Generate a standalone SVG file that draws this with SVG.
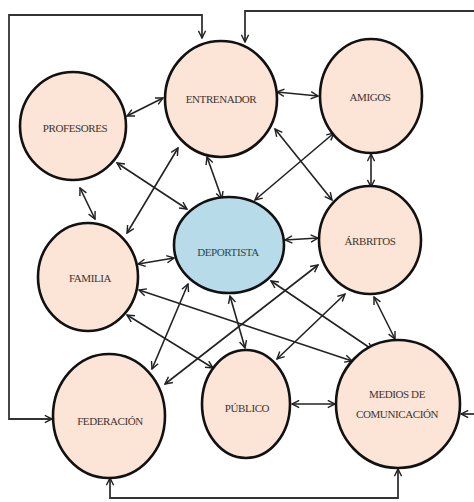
<svg xmlns="http://www.w3.org/2000/svg" width="474" height="502" viewBox="0 0 474 502">
<defs>
<marker id="ah" viewBox="0 0 10 10" refX="9" refY="5" markerWidth="9" markerHeight="9" markerUnits="userSpaceOnUse" orient="auto-start-reverse">
<path d="M1,1 L9,5 L1,9" fill="none" stroke="#222" stroke-width="1.6"/>
</marker>
<style>
.n{fill:#fce4d6;stroke:#111;stroke-width:2.6}
.d{fill:#b7dbe8;stroke:#111;stroke-width:2.6}
.t{font-family:"Liberation Serif","Times New Roman",serif;font-size:11px;fill:#3d3530;text-anchor:middle;letter-spacing:-0.4px}
.c line{stroke:#222;stroke-width:1.6;marker-start:url(#ah);marker-end:url(#ah)}
.f path{fill:none;stroke:#333;stroke-width:1.8}
</style>
</defs>
<rect width="474" height="502" fill="#fff"/>
<g id="frame" class="f">
<path d="M202,38 V15 H9 V419 H52" marker-start="url(#ah)" marker-end="url(#ah)"/>
<path d="M474,11 H245 V42" marker-end="url(#ah)"/>
<path d="M474,414 H461" marker-end="url(#ah)"/>
<path d="M110,478 V498 H398 V469" marker-start="url(#ah)" marker-end="url(#ah)"/>
</g>
<g id="connectors" class="c">
<line x1="127" y1="116" x2="163" y2="98"/>
<line x1="277" y1="92" x2="318" y2="96"/>
<line x1="371" y1="154" x2="371" y2="187"/>
<line x1="207" y1="157" x2="222" y2="199"/>
<line x1="117" y1="163" x2="187" y2="209"/>
<line x1="80" y1="188" x2="95" y2="219"/>
<line x1="178" y1="148" x2="127" y2="233"/>
<line x1="275" y1="129" x2="332" y2="200"/>
<line x1="334" y1="133" x2="255" y2="200"/>
<line x1="285" y1="240" x2="318" y2="238"/>
<line x1="138" y1="264" x2="174" y2="258"/>
<line x1="139" y1="290" x2="352" y2="361"/>
<line x1="271" y1="281" x2="373" y2="350"/>
<line x1="127" y1="315" x2="213" y2="368"/>
<line x1="188" y1="284" x2="152" y2="369"/>
<line x1="318" y1="265" x2="165" y2="384"/>
<line x1="230" y1="296" x2="245" y2="348"/>
<line x1="345" y1="294" x2="277" y2="359"/>
<line x1="374" y1="297" x2="395" y2="339"/>
<line x1="292" y1="404" x2="335" y2="404"/>
</g>
<g id="entrenador"><ellipse class="n" cx="221" cy="99" rx="56" ry="58"/><text class="t" x="221" y="103">ENTRENADOR</text></g>
<g id="amigos"><ellipse class="n" cx="371" cy="96" rx="51" ry="57"/><text class="t" x="370" y="101">AMIGOS</text></g>
<g id="profesores"><ellipse class="n" cx="73" cy="126" rx="53" ry="54"/><text class="t" x="75" y="132">PROFESORES</text></g>
<g id="deportista"><ellipse class="d" cx="229" cy="245" rx="55" ry="48"/><text class="t" x="228" y="256" style="fill:#2a4650">DEPORTISTA</text></g>
<g id="arbitros"><ellipse class="n" cx="370" cy="240" rx="51" ry="54"/><text class="t" x="370" y="245">ÁRBRITOS</text></g>
<g id="familia"><ellipse class="n" cx="88" cy="277" rx="50" ry="54"/><text class="t" x="90" y="282">FAMILIA</text></g>
<g id="federacion"><ellipse class="n" cx="109" cy="416" rx="56" ry="62"/><text class="t" x="110" y="425">FEDERACIÓN</text></g>
<g id="publico"><ellipse class="n" cx="246" cy="404" rx="44" ry="54"/><text class="t" x="247" y="412">PÚBLICO</text></g>
<g id="medios"><ellipse class="n" cx="398" cy="404" rx="62" ry="64"/><text class="t" x="397" y="398">MEDIOS DE</text><text class="t" x="397" y="418">COMUNICACIÓN</text></g>
</svg>
